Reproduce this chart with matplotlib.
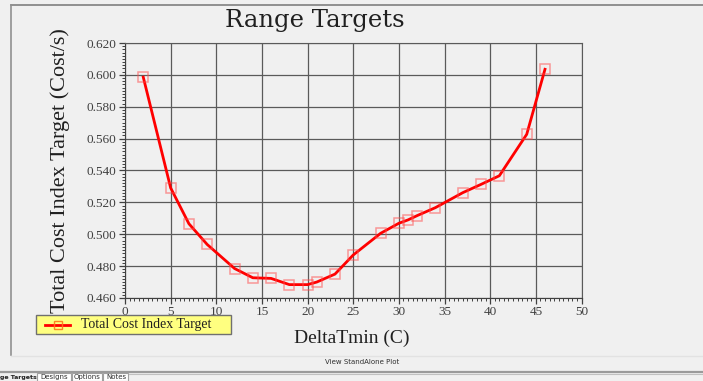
import matplotlib
matplotlib.use("Agg")
import matplotlib.pyplot as plt
from matplotlib.lines import Line2D
from matplotlib.patches import Rectangle
from matplotlib.ticker import MultipleLocator, FormatStrFormatter

# values
delta_tmin = [2, 5, 7, 9, 12, 14, 16, 18, 20, 21, 23, 25, 28, 30, 31, 32, 34, 37, 39, 41, 44, 46]
cost_index = [0.5986, 0.5291, 0.5066, 0.4936, 0.4785, 0.4727, 0.4723, 0.4684, 0.4684, 0.4700,
              0.4750, 0.4870, 0.5006, 0.5069, 0.5090, 0.5117, 0.5167, 0.5261, 0.5313, 0.5367,
              0.5627, 0.6035]
series_name = "Total Cost Index Target"
tab_names = ["Designs", "Options", "Notes"]

W, H = 703, 381
BG = "#f0f0f0"
SERIF = ["Liberation Serif", "DejaVu Serif"]
WIDE_SERIF = ["DejaVu Serif"]


def fx(x):
    return x / W


def fy(y):
    return 1 - y / H


fig = plt.figure(figsize=(W / 100, H / 100), dpi=100, facecolor=BG)

# panel frame
fig.add_artist(Line2D([fx(11), 1], [fy(5), fy(5)], color="#808080", lw=1.2))
fig.add_artist(Line2D([fx(11), fx(11)], [fy(5), fy(355)], color="#909090", lw=1.2))
fig.add_artist(Line2D([fx(11), 1], [fy(355.5), fy(355.5)], color="#e2e2e2", lw=1))

ax = fig.add_axes([fx(125), fy(298), fx(581.5) - fx(125), (298 - 43) / H], facecolor=BG)
ax.plot(delta_tmin, cost_index, color="red", lw=2, zorder=3)
ax.plot(delta_tmin, cost_index, ls="none", marker="s", ms=6.5, mfc="none",
        mec=(1, 0.3, 0.3, 0.55), mew=1.1, zorder=4)

ax.set_xlim(0, 50)
ax.set_ylim(0.46, 0.62)
ax.xaxis.set_major_locator(MultipleLocator(5))
ax.xaxis.set_minor_locator(MultipleLocator(0.5))
ax.yaxis.set_major_locator(MultipleLocator(0.02))
ax.yaxis.set_minor_locator(MultipleLocator(0.002))
ax.yaxis.set_major_formatter(FormatStrFormatter("%.3f"))
ax.grid(True, which="major", color="#5a5a5a", lw=0.9)
ax.tick_params(which="major", direction="out", length=4, width=0.9, color="#404040",
               labelsize=9.5, labelcolor="#404040", pad=2)
ax.tick_params(which="minor", direction="out", length=2, width=0.7, color="#404040")
for lab in ax.get_xticklabels() + ax.get_yticklabels():
    lab.set_family(SERIF)
for side in ["top", "right"]:
    ax.spines[side].set_color("#5a5a5a")
for side in ["left", "bottom"]:
    ax.spines[side].set_color("#404040")

fig.text(fx(315), fy(21), "Range Targets", family=WIDE_SERIF, fontsize=17.5, ha="center",
         va="center", color="#202020")
fig.text(fx(60), fy(171), "Total Cost Index Target (Cost/s)", family=SERIF, fontsize=16,
         rotation=90, ha="center", va="center", color="#202020")
fig.text(fx(352), fy(338), "DeltaTmin (C)", family=SERIF, fontsize=14, ha="center", va="center",
         color="#202020")

# legend box
fig.add_artist(Rectangle((fx(35.5), fy(334)), fx(231) - fx(35.5), (334 - 315) / H,
                         facecolor="#ffff80", edgecolor="#707070", lw=1))
fig.add_artist(Line2D([fx(45), fx(70)], [fy(324.5), fy(324.5)], color="red", lw=2))
fig.add_artist(Line2D([fx(58)], [fy(324.5)], ls="none", marker="s", ms=6, mfc="none",
                      mec=(1, 0.45, 0.1, 0.9), mew=1))
fig.text(fx(81), fy(324.5), series_name, family=SERIF, fontsize=10, ha="left", va="center",
         color="#202020")

fig.text(fx(362), fy(362.5), "View StandAlone Plot", fontsize=5, ha="center", va="center",
         color="#303030")

# tab strip at the bottom (first tab is scrolled off to the left in the reference)
fig.add_artist(Line2D([0, 1], [fy(372), fy(372)], color="#9a9a9a", lw=1.6))
fig.text(fx(0.5), fy(377), "ge Targets", fontsize=4.5, weight="bold", ha="left", va="center",
         color="#202020")
tab_x = [37, 72, 103, 129]
for i, name in enumerate(tab_names):
    fig.add_artist(Rectangle((fx(tab_x[i]), 0), fx(tab_x[i + 1] - tab_x[i] - 1), (381 - 373) / H,
                             facecolor="white", edgecolor="#a0a0a0", lw=0.8))
    fig.text(fx((tab_x[i] + tab_x[i + 1]) / 2), fy(377), name, fontsize=5, ha="center",
             va="center", color="#303030")
fig.add_artist(Line2D([fx(129), 1], [fy(373.5), fy(373.5)], color="#c0c0c0", lw=0.8))

fig.savefig("out.png", dpi=100, facecolor=BG)
